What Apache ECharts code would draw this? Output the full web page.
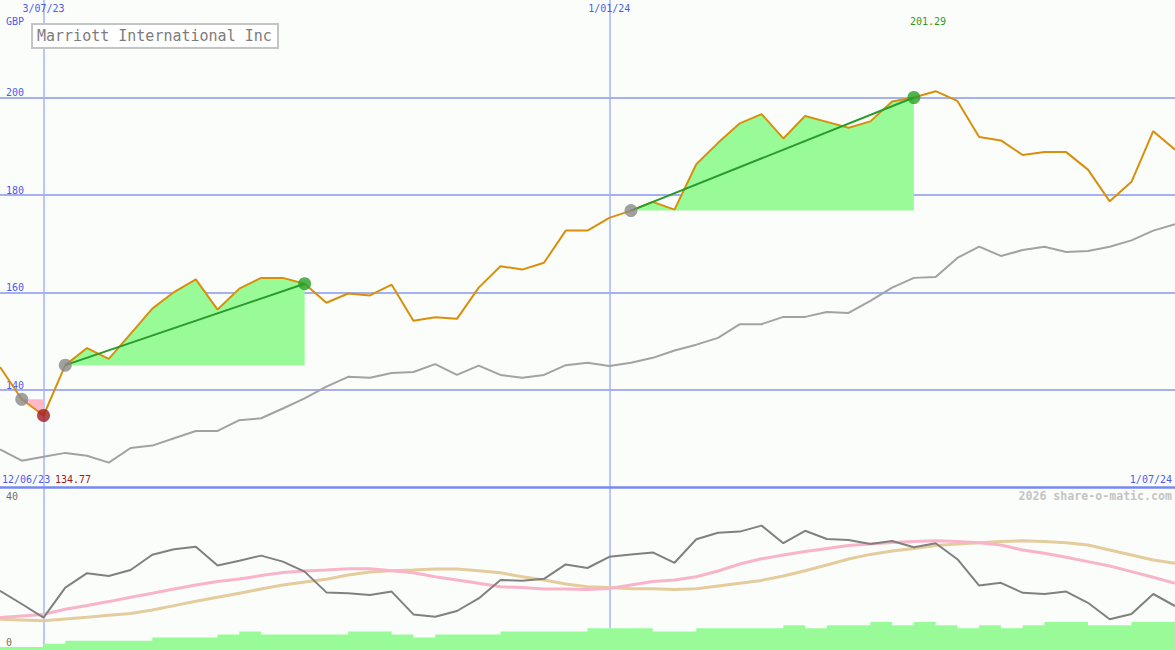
<!DOCTYPE html>
<html>
<head>
<meta charset="utf-8">
<script src="https://cdn.jsdelivr.net/npm/echarts@6/dist/echarts.min.js"></script>
<style>
html,body{margin:0;padding:0;background:#fbfdfb;}
#chart{width:1175px;height:650px;}
</style>
</head>
<body>
<div id="chart"></div>
<script>
const categories = ['19/06/23','26/06/23','3/07/23','10/07/23','17/07/23','24/07/23','31/07/23','7/08/23','14/08/23','21/08/23',
'28/08/23','4/09/23','11/09/23','18/09/23','25/09/23','2/10/23','9/10/23','16/10/23','23/10/23','30/10/23',
'6/11/23','13/11/23','20/11/23','27/11/23','4/12/23','11/12/23','18/12/23','25/12/23','1/01/24','8/01/24',
'15/01/24','22/01/24','29/01/24','5/02/24','12/02/24','19/02/24','26/02/24','4/03/24','11/03/24','18/03/24',
'25/03/24','1/04/24','8/04/24','15/04/24','22/04/24','29/04/24','6/05/24','13/05/24','20/05/24','27/05/24',
'3/06/24','10/06/24','17/06/24','24/06/24','1/07/24'];

const price = [144.7,138.1,134.77,145.1,148.6,146.4,151.5,156.7,160.1,162.7,
156.5,160.8,163.0,163.0,161.8,157.9,159.8,159.4,161.6,154.2,
154.9,154.6,161.0,165.4,164.7,166.1,172.7,172.7,175.3,176.8,
178.6,177.0,186.3,190.7,194.7,196.6,191.6,196.2,195.0,193.8,
195.1,199.2,200.0,201.29,199.3,191.9,191.2,188.2,188.8,188.8,
185.2,178.7,182.7,193.1,189.3];

const priceAverage = [127.8,125.5,126.3,127.1,126.5,125.1,128.1,128.6,130.1,131.6,
131.6,133.8,134.2,136.2,138.3,140.7,142.7,142.5,143.5,143.7,
145.3,143.1,145.0,143.1,142.5,143.1,145.1,145.6,144.9,145.6,
146.6,148.1,149.3,150.7,153.5,153.5,155.0,155.0,156.0,155.8,
158.3,161.0,163.0,163.2,167.1,169.4,167.5,168.7,169.4,168.3,
168.5,169.4,170.7,172.7,174.0];

const oscillator = [14.8,11.5,8.1,15.6,19.2,18.5,20.0,23.8,25.2,25.8,
21.1,22.3,23.6,22.1,19.6,14.4,14.2,13.75,14.6,8.9,
8.3,9.75,12.9,17.5,17.3,17.8,21.4,20.5,23.3,23.9,
24.4,21.8,27.7,29.3,29.6,31.1,26.7,29.8,27.75,27.5,
26.5,27.25,25.7,26.7,22.7,16.1,16.8,14.3,14.0,14.6,
11.8,7.7,9.0,14.0,11.0];

const oscFast = [8.1,8.5,8.9,10.2,11.1,12.1,13.2,14.2,15.25,16.25,
17.1,17.75,18.6,19.4,19.75,20.0,20.3,20.3,19.8,19.3,
18.3,17.5,16.7,15.8,15.6,15.25,15.25,15.1,15.4,16.25,
17.1,17.5,18.3,19.75,21.5,22.8,23.75,24.6,25.4,26.1,
26.5,26.9,27.1,27.3,27.1,26.8,26.25,25.0,24.2,23.2,
22.1,21.0,19.6,18.2,16.7];

const oscSlow = [7.7,7.5,7.3,7.75,8.2,8.7,9.1,10.0,11.1,12.2,
13.2,14.2,15.25,16.25,17.0,17.7,18.75,19.5,19.8,20.0,
20.25,20.25,19.8,19.3,18.3,17.5,16.5,15.8,15.6,15.3,
15.3,15.1,15.3,16.0,16.7,17.4,18.5,19.8,21.25,22.75,
23.9,24.75,25.4,26.1,26.5,26.8,27.1,27.3,27.1,26.8,
26.25,25.0,23.75,22.5,21.7];

const volume = [1,1,2,3,3,3,3,4,4,4,
5,6,5,5,5,5,6,6,5,4,
5,5,5,6,6,6,6,7,7,7,
6,6,7,7,7,7,8,7,8,8,
9,8,9,8,7,8,7,8,9,9,
8,8,9,9,9];

const priceTicks = [140,160,180,200];
const markedDates = ['3/07/23','1/01/24'];
const gainRanges = [[3,14],[29,42]];
const lossRange = [1,2];
const title = 'Marriott International Inc';
const currency = 'GBP';
const startLabel = '12/06/23';
const endLabel = '1/07/24';
const credit = '2026 share-o-matic.com';

const FONT = 'DejaVu Sans Mono';
const BLUE = '#4a5cf0';
const VLINE = '#a4b4fc';

const markedIdx = markedDates.map(d => categories.indexOf(d));
const isMarked = (i) => markedIdx.indexOf(i) >= 0;

function rangeData(a, b){
  return price.map((v,i) => (i>=a && i<=b) ? v : '-');
}

const series = [];
gainRanges.forEach(([a,b]) => {
  series.push({type:'line', xAxisIndex:0, yAxisIndex:0, data:rangeData(a,b), symbol:'none',
    lineStyle:{width:0, opacity:0}, areaStyle:{color:'#98fb98', opacity:1, origin:price[a]}, z:1, silent:true});
});
series.push({type:'line', xAxisIndex:0, yAxisIndex:0, data:rangeData(lossRange[0],lossRange[1]), symbol:'none',
  lineStyle:{width:0, opacity:0}, areaStyle:{color:'#ffb8c8', opacity:1, origin:price[lossRange[0]]}, z:1, silent:true});
series.push({type:'line', xAxisIndex:0, yAxisIndex:0, data:priceAverage, symbol:'none',
  lineStyle:{color:'#a2a2a2', width:2}, z:3});
series.push({type:'line', xAxisIndex:0, yAxisIndex:0, data:price, symbol:'none',
  lineStyle:{color:'#d8900c', width:2}, z:4});
gainRanges.forEach(([a,b]) => {
  series.push({type:'line', xAxisIndex:0, yAxisIndex:0, data:[[a,price[a]],[b,price[b]]], symbol:'none',
    lineStyle:{color:'#2a9a2a', width:2}, z:5});
});
series.push({type:'scatter', xAxisIndex:0, yAxisIndex:0, symbolSize:13, itemStyle:{color:'#888888'},
  data:[[lossRange[0],price[lossRange[0]]]].concat(gainRanges.map(([a]) => [a, price[a]])), z:6});
series.push({type:'scatter', xAxisIndex:0, yAxisIndex:0, symbolSize:13, itemStyle:{color:'#a01c1c'},
  data:[[lossRange[1],price[lossRange[1]]]], z:6});
series.push({type:'scatter', xAxisIndex:0, yAxisIndex:0, symbolSize:13, itemStyle:{color:'#28a028'},
  data:gainRanges.map(([a,b]) => [b, price[b]]), z:6});
// lower panel
series.push({type:'line', xAxisIndex:1, yAxisIndex:2, data:volume, step:'end', symbol:'none',
  lineStyle:{width:0, opacity:0}, areaStyle:{color:'#98fb98', opacity:1}, z:1});
series.push({type:'line', xAxisIndex:1, yAxisIndex:1, data:oscSlow, symbol:'none',
  lineStyle:{color:'#e4cc9c', width:3}, z:2});
series.push({type:'line', xAxisIndex:1, yAxisIndex:1, data:oscFast, symbol:'none',
  lineStyle:{color:'#f8b4c8', width:3}, z:3});
series.push({type:'line', xAxisIndex:1, yAxisIndex:1, data:oscillator, symbol:'none',
  lineStyle:{color:'#808080', width:2}, z:4});

const maxVal = Math.max.apply(null, price);
const minVal = Math.min.apply(null, price);

const chart = echarts.init(document.getElementById('chart'), null, {renderer:'svg'});
chart.setOption({
  animation:false,
  backgroundColor:'#fbfdfb',
  grid:[
    {left:0, right:0, top:0, height:487.5},
    {left:0, right:0, top:487, height:163}
  ],
  xAxis:[
    {type:'category', gridIndex:0, data:categories, boundaryGap:false, position:'top',
      axisLine:{show:false}, axisTick:{show:false},
      axisLabel:{show:true, inside:true, margin:3, interval:(i)=>isMarked(i), color:BLUE, fontFamily:FONT, fontSize:10},
      splitLine:{show:true, interval:(i)=>isMarked(i), lineStyle:{color:VLINE, width:1.5}}},
    {type:'category', gridIndex:1, data:categories, boundaryGap:false, position:'top',
      axisLine:{show:true, onZero:false, lineStyle:{color:'#7888f0', width:2.5}}, axisTick:{show:false},
      axisLabel:{show:false},
      splitLine:{show:true, interval:(i)=>isMarked(i), lineStyle:{color:VLINE, width:1.5}}}
  ],
  yAxis:[
    {type:'value', gridIndex:0, min:120, max:220, interval:20,
      axisLine:{show:false}, axisTick:{show:false},
      axisLabel:{inside:true, margin:6, verticalAlign:'bottom', color:BLUE, fontFamily:FONT, fontSize:10,
        showMinLabel:false, showMaxLabel:false,
        formatter:(v)=> priceTicks.indexOf(v)>=0 ? String(v) : ''},
      splitLine:{show:true, showMinLine:false, showMaxLine:false, lineStyle:{color:'#a4b0f0', width:2}}},
    {type:'value', gridIndex:1, min:0, max:40.75, show:false},
    {type:'value', gridIndex:1, min:0, max:52.6, show:false}
  ],
  series:series,
  graphic:[
    {type:'rect', shape:{x:32, y:24, width:246, height:24}, style:{fill:'#ffffff', stroke:'#c4c4c4', lineWidth:2}, z:100},
    {type:'text', x:37, y:36, style:{text:title, fill:'#7c7c7c', font:'15px "DejaVu Sans Mono"', verticalAlign:'middle'}, z:101},
    {type:'text', x:6, y:21, style:{text:currency, fill:BLUE, font:'10px "DejaVu Sans Mono"', verticalAlign:'middle'}, z:101},
    {type:'text', x:2, y:479, style:{text:startLabel, fill:BLUE, font:'10px "DejaVu Sans Mono"', verticalAlign:'middle'}, z:101},
    {type:'text', x:55, y:479, style:{text:minVal.toFixed(2), fill:'#a01c1c', font:'10px "DejaVu Sans Mono"', verticalAlign:'middle'}, z:101},
    {type:'text', x:1172, y:479, style:{text:endLabel, fill:BLUE, font:'10px "DejaVu Sans Mono"', verticalAlign:'middle', align:'right'}, z:101},
    {type:'text', x:1172, y:496, style:{text:credit, fill:'#c4c4c4', font:'bold 11.6px "DejaVu Sans Mono"', verticalAlign:'middle', align:'right'}, z:101},
    {type:'text', x:6, y:496, style:{text:'40', fill:'#707070', font:'10px "DejaVu Sans Mono"', verticalAlign:'middle'}, z:101},
    {type:'text', x:6, y:642, style:{text:'0', fill:'#707070', font:'10px "DejaVu Sans Mono"', verticalAlign:'middle'}, z:101},
    {type:'text', x:928, y:21, style:{text:maxVal.toFixed(2), fill:'#2a9a2a', font:'10px "DejaVu Sans Mono"', verticalAlign:'middle', align:'center'}, z:101}
  ]
});
</script>
</body>
</html>
